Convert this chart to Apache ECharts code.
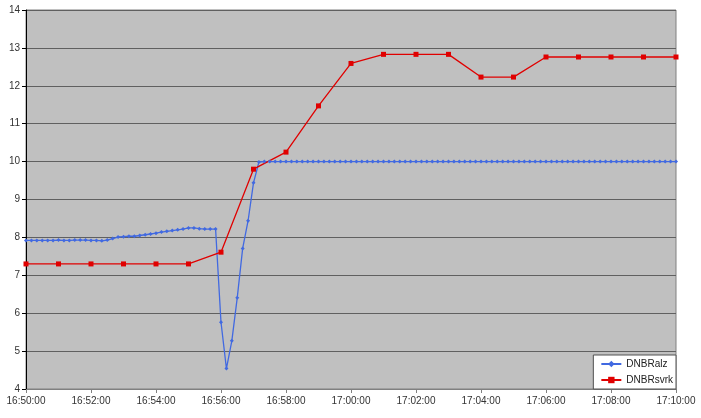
<!DOCTYPE html>
<html><head><meta charset="utf-8">
<script src="https://cdn.jsdelivr.net/npm/echarts@6/dist/echarts.min.js"></script>
<style>html,body{margin:0;padding:0;background:#fff}#c{width:701px;height:418px}</style>
</head><body><div id="c"></div>
<script>
// start time 16:50:00; blue sampled every 10 s, red every 60 s
var startLabel = "16:50:00";
var blueStepSec = 10;
var redStepSec = 60;
var seriesNames = ["DNBRalz", "DNBRsvrk"];
var dnbrAlz = [
  7.92, 7.92, 7.92, 7.92, 7.92, 7.92, 7.93, 7.92, 7.92, 7.93, 7.93, 7.93,
  7.92, 7.92, 7.91, 7.93, 7.97, 8.01, 8.02, 8.03, 8.03, 8.05, 8.07, 8.09,
  8.11, 8.14, 8.16, 8.18, 8.20, 8.22, 8.25, 8.25, 8.23, 8.22, 8.22, 8.22,
  5.76, 4.54, 5.27, 6.41, 7.71, 8.44, 9.44, 9.99,
  10, 10, 10, 10, 10, 10, 10, 10, 10, 10, 10, 10, 10, 10, 10, 10,
  10, 10, 10, 10, 10, 10, 10, 10, 10, 10, 10, 10, 10, 10, 10, 10,
  10, 10, 10, 10, 10, 10, 10, 10, 10, 10, 10, 10, 10, 10, 10, 10,
  10, 10, 10, 10, 10, 10, 10, 10, 10, 10, 10, 10, 10, 10, 10, 10,
  10, 10, 10, 10, 10, 10, 10, 10, 10, 10, 10, 10, 10
];
var dnbrSvrk = [
  7.30, 7.30, 7.30, 7.30, 7.30, 7.30, 7.61, 9.80, 10.25, 11.47, 12.59,
  12.83, 12.83, 12.83, 12.23, 12.23, 12.76, 12.76, 12.76, 12.76, 12.76
];
var xMinSec = 0, xMaxSec = 1200, xTickSec = 120;
var yMin = 4, yMax = 14, yTick = 1;

function fmt(s) {
  var p = startLabel.split(":").map(Number);
  var t = p[0] * 3600 + p[1] * 60 + p[2] + s;
  var h = Math.floor(t / 3600), m = Math.floor((t % 3600) / 60), sec = t % 60;
  return h + ":" + String(m).padStart(2, "0") + ":" + String(sec).padStart(2, "0");
}
var chart = echarts.init(document.getElementById("c"), null, {renderer: "canvas"});
var font = "Liberation Sans, Arial, sans-serif";
chart.setOption({
  animation: false,
  backgroundColor: "#ffffff",
  grid: {left: 26, right: 25, top: 10, bottom: 29, show: true,
         backgroundColor: "#c0c0c0", borderColor: "#808080", borderWidth: 1},
  legend: {
    right: 25, bottom: 29, orient: "vertical",
    backgroundColor: "#ffffff", borderColor: "#505050", borderWidth: 1,
    padding: [4, 3, 4, 7], itemGap: 6, itemWidth: 20, itemHeight: 8,
    textStyle: {fontFamily: font, fontSize: 10, color: "#222"},
    data: seriesNames
  },
  xAxis: {
    type: "value", min: xMinSec, max: xMaxSec, interval: xTickSec,
    axisLine: {show: true, lineStyle: {color: "#808080"}},
    axisTick: {show: true, length: 4, lineStyle: {color: "#808080"}},
    splitLine: {show: false},
    axisLabel: {fontFamily: font, fontSize: 10, color: "#333", margin: 7, formatter: fmt}
  },
  yAxis: {
    type: "value", min: yMin, max: yMax, interval: yTick,
    axisLine: {show: true, lineStyle: {color: "#000"}},
    axisTick: {show: true, length: 4, lineStyle: {color: "#000"}},
    splitLine: {show: true, lineStyle: {color: "#606060", width: 1}},
    axisLabel: {fontFamily: font, fontSize: 10, color: "#333", margin: 6}
  },
  series: [
    {name: seriesNames[0], type: "line",
     data: dnbrAlz.map(function (v, i) { return [i * blueStepSec, v]; }),
     symbol: "diamond", symbolSize: 4, showSymbol: true,
     lineStyle: {color: "#4169e1", width: 1.3},
     itemStyle: {color: "#4169e1"}},
    {name: seriesNames[1], type: "line",
     data: dnbrSvrk.map(function (v, i) { return [i * redStepSec, v]; }),
     symbol: "rect", symbolSize: 5, showSymbol: true,
     lineStyle: {color: "#e00000", width: 1.3},
     itemStyle: {color: "#e00000"}}
  ]
});
</script></body></html>
